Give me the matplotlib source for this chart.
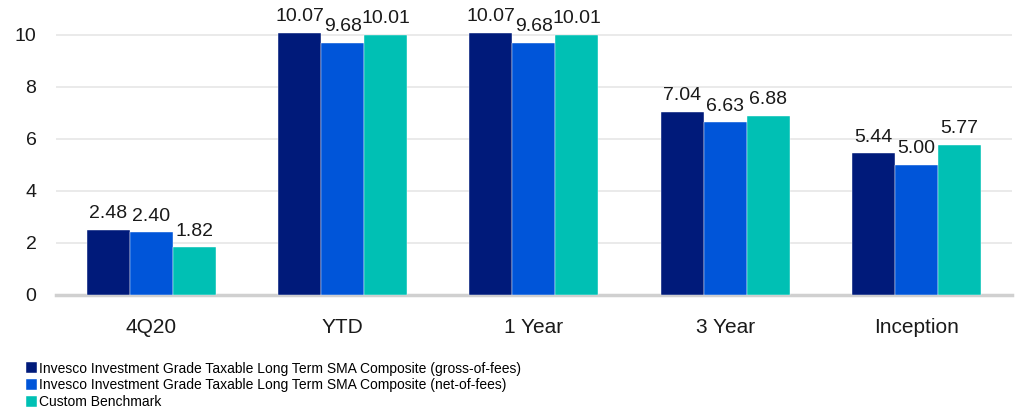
import numpy as np
import matplotlib.pyplot as plt

categories = ['4Q20', 'YTD', '1 Year', '3 Year', 'Inception']
gross = [2.48, 10.07, 10.07, 7.04, 5.44]
net = [2.40, 9.68, 9.68, 6.63, 5.00]
bench = [1.82, 10.01, 10.01, 6.88, 5.77]
series_names = ['Invesco Investment Grade Taxable Long Term SMA Composite (gross-of-fees)',
                'Invesco Investment Grade Taxable Long Term SMA Composite (net-of-fees)',
                'Custom Benchmark']
colors = ['#001a7a', '#0055d9', '#00c0b4']

plt.rcParams['font.family'] = ['Liberation Sans', 'DejaVu Sans']

fig = plt.figure(figsize=(10.16, 4.15), dpi=100)
ax = fig.add_axes([0.055, 0.29, 0.941, 0.657])

x = np.arange(len(categories))
w = 0.225
bars = []
for i, (vals, name, c) in enumerate(zip([gross, net, bench], series_names, colors)):
    b = ax.bar(x + (i - 1) * w, vals, w, color=c, label=name, zorder=3,
               edgecolor='white', linewidth=0.3)
    bars.append(b)
    for xi, v in zip(x + (i - 1) * w, vals):
        ax.text(xi, v + 0.3, f'{v:.2f}', ha='center', va='bottom', fontsize=14, color='#1a1a1a')

ax.set_xlim(-0.5, 4.5)
ax.set_ylim(0, 10.5)
ax.set_yticks(range(0, 11, 2))
ax.set_xticks(x)
ax.set_xticklabels(categories)
ax.tick_params(axis='both', length=0, labelsize=14, colors='#1a1a1a')
ax.tick_params(axis='x', pad=17, labelsize=15)
ax.tick_params(axis='y', pad=14)
ax.grid(axis='y', color='#e6e6e6', linewidth=1.2, zorder=0)
for s in ['top', 'right', 'left']:
    ax.spines[s].set_visible(False)
ax.spines['bottom'].set_color('#d0d0d0')
ax.spines['bottom'].set_linewidth(2.5)

fig.legend(handles=bars, labels=series_names, loc='lower left', bbox_to_anchor=(0.017, -0.006),
           frameon=False, fontsize=10, handlelength=0.8, handleheight=0.8,
           handletextpad=0.2, labelspacing=0.2, borderaxespad=0.2)

fig.savefig('out.png', dpi=100)
